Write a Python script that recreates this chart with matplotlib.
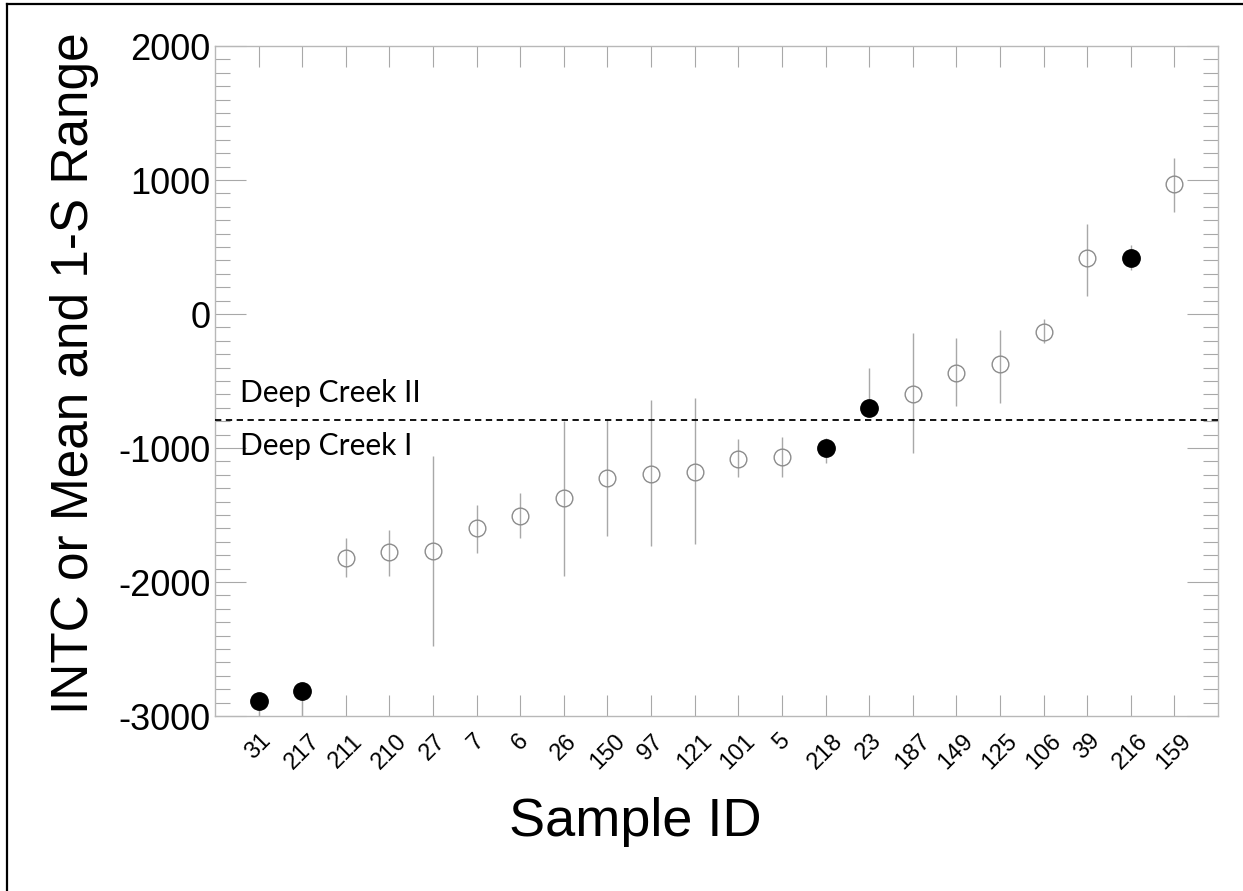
import matplotlib
matplotlib.use("Agg")
import matplotlib.pyplot as plt
from matplotlib.lines import Line2D
from matplotlib.ticker import MultipleLocator

plt.rcParams['axes.unicode_minus'] = False

# sample IDs in plotting order, mean and 1-S range
sample_ids = ['31', '217', '211', '210', '27', '7', '6', '26', '150', '97', '121',
              '101', '5', '218', '23', '187', '149', '125', '106', '39', '216', '159']
means = [-2890, -2810, -1820, -1775, -1770, -1595, -1505, -1375, -1225, -1195, -1180,
         -1080, -1065, -1000, -700, -595, -440, -375, -135, 420, 420, 970]
upper = [-2850, -2790, -1670, -1610, -1060, -1425, -1335, -795, -785, -640, -625,
         -935, -920, -925, -405, -140, -180, -120, -35, 670, 515, 1165]
lower = [-3050, -3050, -1965, -1955, -2480, -1785, -1670, -1955, -1655, -1730, -1715,
         -1215, -1215, -1110, -720, -1035, -685, -665, -215, 135, 330, 760]
filled = [True, True, False, False, False, False, False, False, False, False, False,
          False, False, True, True, False, False, False, False, False, True, False]

boundary = -790
boundary_labels = ['Deep Creek II', 'Deep Creek I']
boundary_label_y = [-657, -1052]

GRAY = '#a8a8a8'

fig = plt.figure(figsize=(12.43, 8.91), dpi=100)
ax = fig.add_axes([215 / 1243, 1 - 716 / 891, (1218 - 215) / 1243, (716 - 46) / 891])

x = list(range(len(sample_ids)))
yerr = [[m - lo for m, lo in zip(means, lower)], [hi - m for m, hi in zip(means, upper)]]
ax.errorbar(x, means, yerr=yerr, fmt='none', ecolor=GRAY, elinewidth=1.0, capsize=0, zorder=2)

xo = [i for i in x if not filled[i]]
yo = [means[i] for i in xo]
xf = [i for i in x if filled[i]]
yf = [means[i] for i in xf]
ax.plot(xo, yo, 'o', ms=12, mfc='none', mec='#8c8c8c', mew=1.0, zorder=3)
ax.plot(xf, yf, 'o', ms=12.5, mfc='black', mec='black', zorder=3)

ax.axhline(boundary, color='black', lw=1.3, dashes=(3.5, 2.5), zorder=4)
for lab, yy in zip(boundary_labels, boundary_label_y):
    ax.text(-0.42, yy, lab, fontsize=21.5, family='Lato', va='baseline', ha='left')

ax.set_xlim(-1, len(sample_ids))
ax.set_ylim(-3000, 2000)
ax.set_xticks(x)
ax.set_xticklabels(sample_ids, rotation=45, fontsize=17, family='Liberation Sans')
ax.yaxis.set_major_locator(MultipleLocator(1000))
ax.yaxis.set_minor_locator(MultipleLocator(100))
for t in ax.get_yticklabels():
    t.set_family('Liberation Sans')
    t.set_fontsize(26)

ax.tick_params(axis='x', which='major', direction='in', length=15, width=0.8, color=GRAY,
               top=True, bottom=True, pad=10)
ax.tick_params(axis='y', which='major', direction='in', length=22, width=0.8, color=GRAY,
               left=True, right=True, pad=3)
ax.tick_params(axis='y', which='minor', direction='in', length=11, width=0.8, color=GRAY,
               left=True, right=True)
for s in ax.spines.values():
    s.set_color('#b8b8b8')
    s.set_linewidth(1.0)

fig.text(635 / 1243, 1 - 822 / 891, 'Sample ID', fontsize=39, family='Liberation Sans',
         ha='center', va='center')
fig.text(75 / 1243, 1 - 373 / 891, 'INTC or Mean and 1-S Range', fontsize=37,
         family='Liberation Sans', rotation=90, ha='center', va='center')

# frame lines around the figure (left and top only in the crop)
fig.add_artist(Line2D([7 / 1243, 7 / 1243], [0, 1 - 4 / 891], color='black', lw=1.6,
                      transform=fig.transFigure))
fig.add_artist(Line2D([7 / 1243, 1], [1 - 4 / 891, 1 - 4 / 891], color='black', lw=1.6,
                      transform=fig.transFigure))

fig.savefig('out.png', dpi=100)
